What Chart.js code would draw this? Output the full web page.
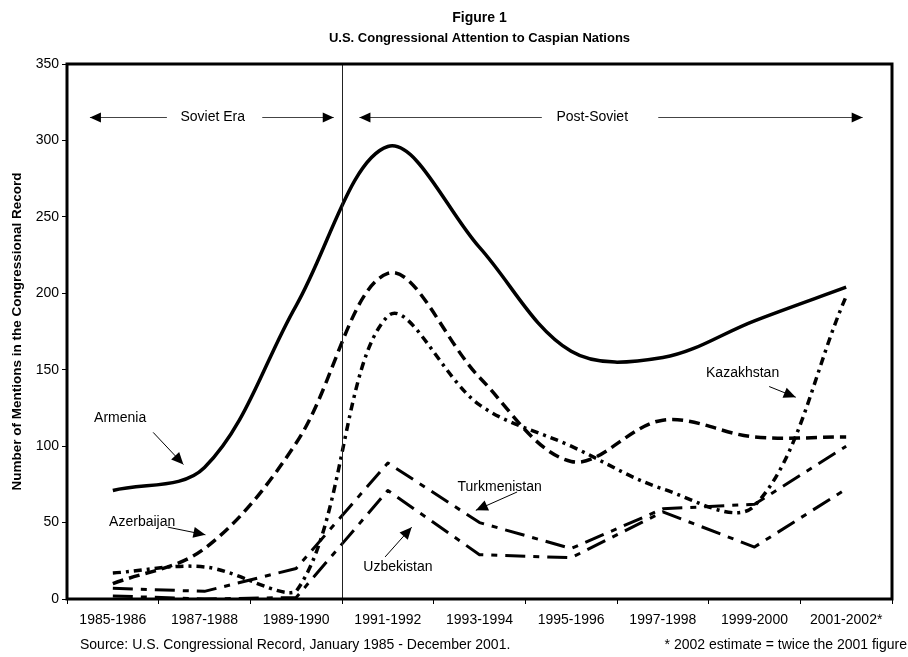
<!DOCTYPE html>
<html>
<head>
<meta charset="utf-8">
<title>U.S. Congressional Attention to Caspian Nations</title>
<script src="https://cdn.jsdelivr.net/npm/chart.js@4/dist/chart.umd.min.js"></script>
<style>
    html, body { margin: 0; padding: 0; background: #fff; }
    #wrap { width: 908px; height: 657px; position: relative; }
</style>
</head>
<body>
<div id="wrap"><canvas id="chart"></canvas></div>
<script>
const periods = ['1985-1986', '1987-1988', '1989-1990', '1991-1992', '1993-1994',
    '1995-1996', '1997-1998', '1999-2000', '2001-2002*'];
const armenia = [71, 86, 192, 296, 230, 162, 158, 182, 204];
const azerbaijan = [10, 33, 102, 213, 145, 90, 117, 106, 106];
const kazakhstan = [17, 21, 5, 185, 127, 100, 72, 61, 198];
const turkmenistan = [7, 5, 20, 89, 50, 33, 59, 62, 100];
const uzbekistan = [2, 0, 1, 71, 29, 27, 57, 34, 72];
const yTicks = [0, 50, 100, 150, 200, 250, 300, 350];

const titleLines = ['Figure 1', 'U.S. Congressional Attention to Caspian Nations'];
const FONT = '"Liberation Sans", Arial, sans-serif';

// labels with arrows, placed in data space (category index, value)
const callouts = [
    { text: 'Armenia', tx: 0.08, ty: 118, from: [0.44, 109], to: [0.77, 88] },
    { text: 'Azerbaijan', tx: 0.32, ty: 50, from: [0.60, 47], to: [1.01, 42] },
    { text: 'Turkmenistan', tx: 4.22, ty: 73, from: [4.41, 70], to: [3.96, 58] },
    { text: 'Uzbekistan', tx: 3.11, ty: 21, from: [2.97, 27.5], to: [3.26, 47] },
    { text: 'Kazakhstan', tx: 6.87, ty: 148, from: [7.16, 139], to: [7.45, 132] }
];

function arrowHead(ctx, x1, y1, x2, y2, len, half) {
    const ang = Math.atan2(y2 - y1, x2 - x1);
    ctx.beginPath();
    ctx.moveTo(x2, y2);
    ctx.lineTo(x2 - len * Math.cos(ang) + half * Math.sin(ang), y2 - len * Math.sin(ang) - half * Math.cos(ang));
    ctx.lineTo(x2 - len * Math.cos(ang) - half * Math.sin(ang), y2 - len * Math.sin(ang) + half * Math.cos(ang));
    ctx.closePath();
    ctx.fill();
}

function arrow(ctx, x1, y1, x2, y2, color, len, half) {
    ctx.strokeStyle = color;
    ctx.lineWidth = 1;
    ctx.beginPath();
    ctx.moveTo(x1, y1);
    ctx.lineTo(x2, y2);
    ctx.stroke();
    ctx.fillStyle = '#000';
    arrowHead(ctx, x1, y1, x2, y2, len, half);
}

const overlay = {
    id: 'overlay',
    afterDatasetsDraw(chart) {
        const { ctx, chartArea: a, scales: { x, y } } = chart;
        const px = i => x.getPixelForValue(i);
        ctx.save();

        // title, centred over the plot area
        const cx = (a.left + a.right) / 2;
        ctx.fillStyle = '#000';
        ctx.textAlign = 'center';
        ctx.textBaseline = 'middle';
        ctx.font = 'bold 14px ' + FONT;
        ctx.fillText(titleLines[0], cx, 18);
        ctx.font = 'bold 13px ' + FONT;
        ctx.fillText(titleLines[1], cx, 38);

        // era divider between 1989-1990 and 1991-1992
        const divX = Math.round((px(2) + px(3)) / 2) + 0.5;
        ctx.strokeStyle = '#222';
        ctx.lineWidth = 1;
        ctx.beginPath();
        ctx.moveTo(divX, a.top);
        ctx.lineTo(divX, a.bottom);
        ctx.stroke();

        // era arrows
        const eraY = Math.round(y.getPixelForValue(315)) + 0.5;
        ctx.font = '14px ' + FONT;
        ctx.fillText('Soviet Era', px(1.09), eraY);
        ctx.fillText('Post-Soviet', px(5.23), eraY);
        arrow(ctx, px(0.59), eraY, px(-0.25), eraY, '#444', 11, 5);
        arrow(ctx, px(1.63), eraY, px(2.41), eraY, '#444', 11, 5);
        arrow(ctx, px(4.68), eraY, px(2.69), eraY, '#444', 11, 5);
        arrow(ctx, px(5.95), eraY, px(8.18), eraY, '#444', 11, 5);

        // series callouts
        callouts.forEach(c => {
            ctx.fillStyle = '#000';
            ctx.font = '14px ' + FONT;
            ctx.textAlign = 'center';
            ctx.textBaseline = 'middle';
            ctx.fillText(c.text, px(c.tx), y.getPixelForValue(c.ty));
            arrow(ctx, px(c.from[0]), y.getPixelForValue(c.from[1]),
                px(c.to[0]), y.getPixelForValue(c.to[1]), '#000', 12, 5.5);
        });

        // heavy plot frame
        ctx.strokeStyle = '#000';
        ctx.lineWidth = 3;
        ctx.strokeRect(a.left, a.top, a.right - a.left, a.bottom - a.top);

        // footnotes
        ctx.fillStyle = '#000';
        ctx.font = '14px ' + FONT;
        ctx.textBaseline = 'middle';
        ctx.textAlign = 'left';
        ctx.fillText('Source: U.S. Congressional Record, January 1985 - December 2001.', 80, 645);
        ctx.textAlign = 'right';
        ctx.fillText('* 2002 estimate = twice the 2001 figure', 907, 645);
        ctx.restore();
    }
};

function series(label, data, dash, width, tension) {
    return {
        label: label,
        data: data,
        borderColor: '#000',
        borderWidth: width,
        borderDash: dash,
        borderCapStyle: 'butt',
        borderJoinStyle: 'round',
        tension: tension,
        pointRadius: 0,
        fill: false
    };
}

new Chart(document.getElementById('chart'), {
    type: 'line',
    data: {
        labels: periods,
        datasets: [
            series('Armenia', armenia, [], 3.5, 0.35),
            series('Azerbaijan', azerbaijan, [11, 6], 3.5, 0.35),
            series('Kazakhstan', kazakhstan, [8, 5, 3, 5], 3.5, 0.35),
            series('Turkmenistan', turkmenistan, [20, 8, 6, 8], 3, 0),
            series('Uzbekistan', uzbekistan, [20, 8, 6, 8], 3, 0)
        ]
    },
    options: {
        responsive: true,
        maintainAspectRatio: false,
        animation: false,
        events: [],
        layout: { padding: { left: 0, right: 16, top: 64, bottom: 0 } },
        plugins: {
            legend: { display: false },
            tooltip: { enabled: false },
            title: { display: false }
        },
        scales: {
            x: {
                offset: true,
                grid: { display: true, offset: true, drawOnChartArea: false, drawTicks: true, tickLength: 5, color: '#000' },
                border: { display: false },
                ticks: { color: '#000', font: { family: FONT, size: 14 }, padding: 8, maxRotation: 0, autoSkip: false },
                afterFit: s => { s.height = 58; }
            },
            y: {
                min: 0,
                max: 350,
                afterBuildTicks: s => { s.ticks = yTicks.map(v => ({ value: v })); },
                grid: { display: true, drawOnChartArea: false, drawTicks: true, tickLength: 5, color: '#000' },
                border: { display: false },
                ticks: { color: '#000', font: { family: FONT, size: 14 }, padding: 3 },
                title: {
                    display: true,
                    text: 'Number of Mentions in the Congressional Record',
                    color: '#000',
                    font: { family: FONT, size: 13.5, weight: 'bold' },
                    padding: { top: 9, bottom: 0 }
                },
                afterFit: s => { s.width = 67; }
            }
        }
    },
    plugins: [overlay]
});
</script>
</body>
</html>
